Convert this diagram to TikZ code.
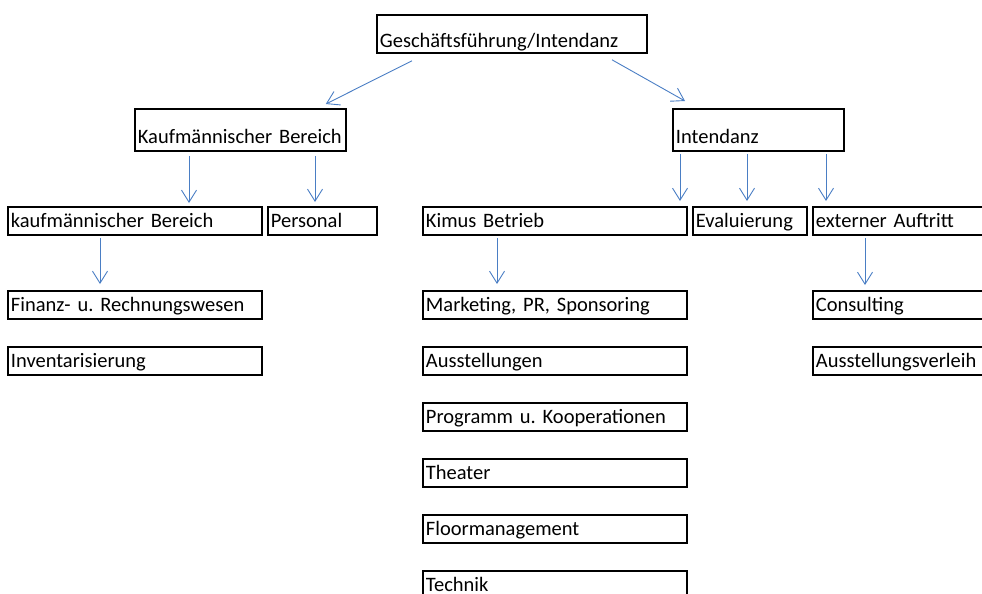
\documentclass[tikz,border=0pt]{standalone}
\usepackage{fontspec}
\setmainfont{Carlito}
\usetikzlibrary{arrows.meta,calc}
\definecolor{arrblue}{HTML}{4A7EC4}
\hyphenpenalty=10000
\exhyphenpenalty=10000
\frenchspacing
\begin{document}
\begin{tikzpicture}[x=1pt,y=-1pt,
  box/.style={draw, line width=1.8pt, anchor=north west, inner ysep=0pt, inner xsep=3pt,
    align=left, font=\fontsize{20.5}{22}\selectfont},
  boxs/.style={box, text height=21pt, text depth=7pt},
  boxm/.style={box, text height=35pt, text depth=7pt},
  arr/.style={draw=arrblue, line width=0.9pt, -{Straight Barb[length=12pt,width=15pt]}}]
\useasboundingbox (0,0) rectangle (982,594);
\clip (0,0) rectangle (982,594);
% boxes
\node[box, text height=33pt, text depth=5pt, text width=264pt] (top) at (376,14) {Geschäftsführung/Intendanz};
\node[boxm, text width=205pt] (kb) at (134,108) {Kaufmännischer Bereich};
\node[boxm, text width=165pt] (int) at (672,108) {Intendanz};
\node[boxs, text width=248pt] (kbb) at (7,206) {kaufmännischer Bereich};
\node[boxs, text width=103pt] (pers) at (267,206) {Personal};
\node[boxs, text width=258pt] (kimus) at (422,206) {Kimus Betrieb};
\node[boxs, text width=108pt] (eval) at (692,206) {Evaluierung};
\node[boxs, text width=194pt] (ext) at (812,206) {externer Auftritt};
\node[boxs, text width=248pt] (fin) at (7,290) {Finanz- u. Rechnungswesen};
\node[boxs, text width=248pt] (inv) at (7,346) {Inventarisierung};
\node[boxs, text width=258pt] (mkt) at (422,290) {Marketing, PR, Sponsoring};
\node[boxs, text width=258pt] (aus) at (422,346) {Ausstellungen};
\node[boxs, text width=258pt] (prog) at (422,402) {Programm u. Kooperationen};
\node[boxs, text width=258pt] (theater) at (422,458) {Theater};
\node[boxs, text width=258pt] (floor) at (422,514) {Floormanagement};
\node[boxs, text width=258pt] (tech) at (422,570) {Technik};
\node[boxs, text width=194pt] (cons) at (812,290) {Consulting};
\node[boxs, text width=194pt] (ausv) at (812,346) {Ausstellungsverleih};
% connectors
\draw[arr] ($(top.south west)+(36,7)$) -- ($(kb.north east)+(-21,-4)$);
\draw[arr] ($(top.south west)+(236,6)$) -- ($(int.north west)+(13,-7)$);
\draw[arr] ($(kb.south west)+(55,4)$) -- ($(kb.south west |- kbb.north)+(55,-3)$);
\draw[arr] ($(kb.south west)+(181,4)$) -- ($(kb.south west |- pers.north)+(181,-4)$);
\draw[arr] ($(kbb.south west)+(93,2)$) -- ($(kbb.south west |- fin.north)+(93,-6)$);
\draw[arr] ($(int.south west)+(8,2)$) -- ($(int.south west |- kimus.north)+(8,-5)$);
\draw[arr] ($(int.south west)+(75,2)$) -- ($(int.south west |- eval.north)+(75,-5)$);
\draw[arr] ($(int.south west)+(154,2)$) -- ($(int.south west |- ext.north)+(154,-5)$);
\draw[arr] ($(kimus.south west)+(75,2)$) -- ($(kimus.south west |- mkt.north)+(75,-6)$);
\draw[arr] ($(ext.south west)+(53,2)$) -- ($(ext.south west |- cons.north)+(53,-5)$);
\end{tikzpicture}
\end{document}
